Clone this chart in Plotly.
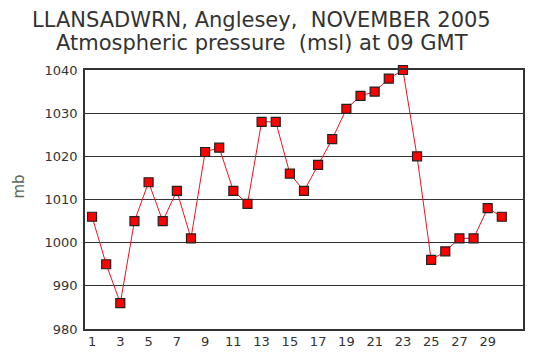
import plotly.graph_objects as go

days = list(range(1, 31))
pressure = [1006, 995, 986, 1005, 1014, 1005, 1012, 1001, 1021, 1022,
            1012, 1009, 1028, 1028, 1016, 1012, 1018, 1024, 1031, 1034,
            1035, 1038, 1040, 1020, 996, 998, 1001, 1001, 1008, 1006]
x_ticks = list(range(1, 30, 2))
y_ticks = [980, 990, 1000, 1010, 1020, 1030, 1040]
title_lines = ["LLANSADWRN, Anglesey,  NOVEMBER 2005",
               "Atmospheric pressure  (msl) at 09 GMT"]

fig = go.Figure()
fig.add_trace(go.Scatter(
    x=days, y=pressure, mode="lines+markers",
    line=dict(color="#ee1122", width=1),
    marker=dict(symbol="square", size=9, color="#ff0000",
                line=dict(color="#222222", width=1.2)),
    cliponaxis=False,
))

title_font = dict(family="DejaVu Sans", size=21, color="#333333")
annotations = [
    dict(text=title_lines[0], xref="paper", yref="paper", x=0.404, y=1.0,
         yshift=50, xanchor="center", yanchor="middle", showarrow=False,
         font=title_font),
    dict(text=title_lines[1], xref="paper", yref="paper", x=0.404, y=1.0,
         yshift=27, xanchor="center", yanchor="middle", showarrow=False,
         font=title_font),
    dict(text="mb", xref="paper", yref="paper", x=0, xshift=-67, y=0.5,
         yshift=13, xanchor="center", yanchor="middle", textangle=-90,
         showarrow=False,
         font=dict(family="DejaVu Sans", size=15, color="#5a6a5a")),
]

# page body has an 8px default margin, so the figure is shrunk to fit
fig.update_layout(
    width=530, height=355,
    margin=dict(l=77, r=15, t=62, b=34),
    paper_bgcolor="white", plot_bgcolor="white",
    showlegend=False,
    annotations=annotations,
    font=dict(family="DejaVu Sans", size=13, color="#333333"),
)
fig.update_xaxes(
    range=[0.5, 31.5], tickvals=x_ticks, showgrid=False, automargin=False,
    showline=True, linecolor="#333333", linewidth=1.5, mirror=True,
    ticks="", zeroline=False, tickfont=dict(size=13),
)
fig.update_yaxes(
    range=[980, 1040], tickvals=y_ticks, showgrid=True, automargin=False,
    gridcolor="#333333", gridwidth=1,
    showline=True, linecolor="#333333", linewidth=1.5, mirror=True,
    ticks="", zeroline=False, tickfont=dict(size=13), ticklabelstandoff=3,
)
fig.write_html("out.html")
